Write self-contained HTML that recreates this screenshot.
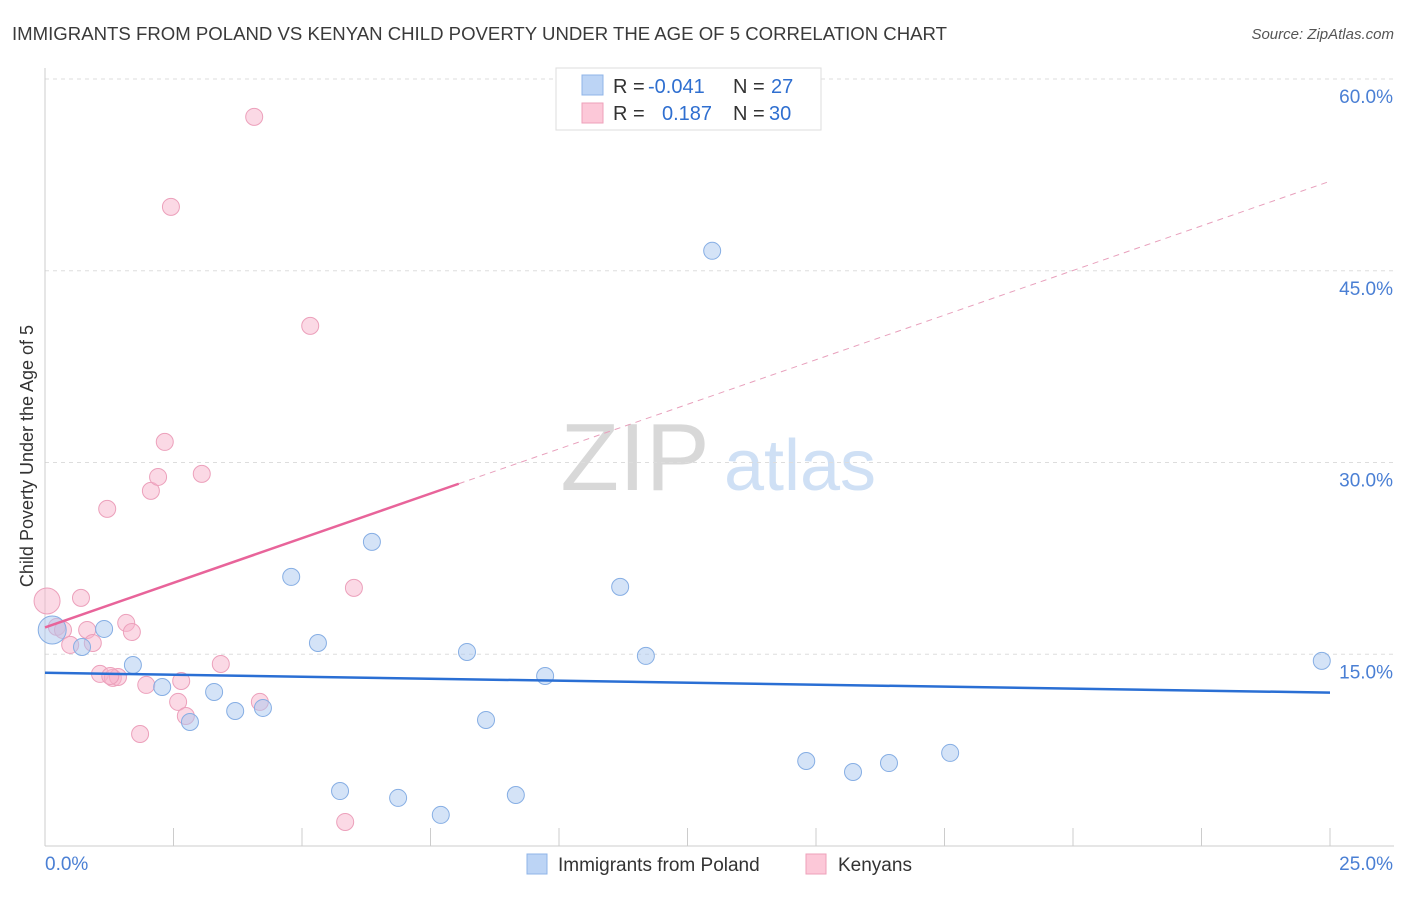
<!DOCTYPE html>
<html><head><meta charset="utf-8">
<style>
body{margin:0;background:#fff;font-family:"Liberation Sans",sans-serif;}
svg text{font-family:"Liberation Sans",sans-serif;}
</style></head>
<body>
<svg id="chart" width="1406" height="892" xmlns="http://www.w3.org/2000/svg">
<text x="12" y="40" font-size="18.6" fill="#3a3a3a">IMMIGRANTS FROM POLAND VS KENYAN CHILD POVERTY UNDER THE AGE OF 5 CORRELATION CHART</text>
<text x="1394" y="39" font-size="15" fill="#555" text-anchor="end" font-style="italic">Source: ZipAtlas.com</text>
<g>
<text x="635" y="490" font-size="96" fill="#d8d8d8" text-anchor="middle" font-family="Liberation Serif">ZIP</text>
<text x="800" y="490" font-size="72" fill="#cfe0f5" text-anchor="middle">atlas</text>
</g>
<g id="grid"></g>
<g id="axes"></g>
<g id="marks"></g>
<g>
<rect x="556" y="68" width="265" height="62" fill="#fff" stroke="#ddd"/>
<rect x="582" y="75" width="21" height="20" fill="#bcd4f5" stroke="#8fb4e8"/>
<rect x="582" y="103" width="21" height="20" fill="#fcc8d8" stroke="#eea0ba"/>
<text x="613" y="93" font-size="20" fill="#333">R =</text>
<text x="648" y="93" font-size="20" fill="#2f6fd0">-0.041</text>
<text x="733" y="93" font-size="20" fill="#333">N =</text>
<text x="771" y="93" font-size="20" fill="#2f6fd0">27</text>
<text x="613" y="120" font-size="20" fill="#333">R =</text>
<text x="662" y="120" font-size="20" fill="#2f6fd0">0.187</text>
<text x="733" y="120" font-size="20" fill="#333">N =</text>
<text x="769" y="120" font-size="20" fill="#2f6fd0">30</text>
</g>
<g>
<rect x="527" y="854" width="20" height="20" fill="#bcd4f5" stroke="#8fb4e8"/>
<text x="558" y="871" font-size="19" fill="#333">Immigrants from Poland</text>
<rect x="806" y="854" width="20" height="20" fill="#fcc8d8" stroke="#eea0ba"/>
<text x="838" y="871" font-size="19" fill="#333">Kenyans</text>
</g>
<text transform="translate(33,456) rotate(-90)" font-size="18" fill="#333" text-anchor="middle">Child Poverty Under the Age of 5</text>
</svg>
<script>
const xTickLabels=["0.0%","25.0%"];
const yTicks=[15,30,45,60];
const yTickLabels=["15.0%","30.0%","45.0%","60.0%"];
const polandX=[0.14,0.72,1.15,1.71,2.28,2.82,3.29,3.70,4.24,4.79,5.31,5.74,6.36,6.87,7.70,8.21,8.58,9.16,9.73,11.19,11.69,12.98,14.81,15.72,16.42,17.61,24.84];
const polandY=[16.9,15.57,16.98,14.16,12.44,9.70,12.05,10.56,10.80,21.05,15.88,4.30,23.79,3.76,2.43,15.18,9.86,3.99,13.30,20.27,14.87,46.56,6.65,5.79,6.49,7.28,14.48];
const kenyaX=[0.04,0.23,0.35,0.49,0.70,0.82,0.93,1.07,1.21,1.32,1.42,1.58,1.69,1.85,1.97,2.06,2.20,2.33,2.45,2.59,2.65,2.74,3.05,3.42,4.07,4.18,5.16,5.84,6.01,1.27];
const kenyaY=[19.17,17.14,16.9,15.73,19.41,16.9,15.88,13.46,26.37,13.15,13.22,17.45,16.74,8.76,12.6,27.78,28.87,31.61,50.0,11.27,12.91,10.17,29.11,14.24,57.04,11.27,40.69,1.88,20.19,13.3];
const polandTrend=[13.55,12.0];
const kenyaTrend=[17.1,52.0];
const kenyaSolidEnd=8.05;

const NS="http://www.w3.org/2000/svg";
const X=v=>45+v*(1285/25);
const Y=v=>846-v*(767/60);
function mk(tag,attrs,parent){const e=document.createElementNS(NS,tag);for(const k in attrs)e.setAttribute(k,attrs[k]);parent.appendChild(e);return e;}
const grid=document.getElementById('grid'),axes=document.getElementById('axes'),marks=document.getElementById('marks');
yTicks.forEach((t,i)=>{
  const l=mk('line',{x1:45,x2:1394,y1:Y(t),y2:Y(t),stroke:'#ddd','stroke-dasharray':'4,4'},grid);
  
  
  const tx=mk('text',{x:1393,y:Y(t)+24,'font-size':19,fill:'#4a7fd4','text-anchor':'end'},axes);
  tx.textContent=yTickLabels[i];
  
  
});
const ax=mk('line',{x1:45,x2:1394,y1:846,y2:846,stroke:'#ccc'},axes);


const ay=mk('line',{x1:45,x2:45,y1:68,y2:846,stroke:'#ccc'},axes);


for(let i=0;i<=10;i++){
  const t=mk('line',{x1:X(i*2.5),x2:X(i*2.5),y1:828,y2:846,stroke:'#ccc'},axes);
  
  
}
const xl0=mk('text',{x:45,y:870,'font-size':19,fill:'#4a7fd4'},axes);xl0.textContent=xTickLabels[0];


const xl1=mk('text',{x:1393,y:870,'font-size':19,fill:'#4a7fd4','text-anchor':'end'},axes);xl1.textContent=xTickLabels[1];



kenyaX.forEach((v,i)=>{
  const c=mk('circle',{cx:X(v),cy:Y(kenyaY[i]),r:i===0?13:8.5,fill:'rgba(248,180,204,0.5)',stroke:'#eca0bb','stroke-width':1},marks);
  
  
});
polandX.forEach((v,i)=>{
  const c=mk('circle',{cx:X(v),cy:Y(polandY[i]),r:i===0?14:8.5,fill:'rgba(170,200,240,0.5)',stroke:'#86aee4','stroke-width':1},marks);
  
  
});
const kY=x=>kenyaTrend[0]+(kenyaTrend[1]-kenyaTrend[0])*x/25;
const kd=mk('line',{x1:X(kenyaSolidEnd),y1:Y(kY(kenyaSolidEnd)),x2:X(25),y2:Y(kY(25)),stroke:'#e8a0bc','stroke-dasharray':'6,5','stroke-width':1},marks);


const ks=mk('line',{x1:X(0),y1:Y(kY(0)),x2:X(kenyaSolidEnd),y2:Y(kY(kenyaSolidEnd)),stroke:'#e8649a','stroke-width':2.5},marks);


const pl=mk('line',{x1:X(0),y1:Y(polandTrend[0]),x2:X(25),y2:Y(polandTrend[1]),stroke:'#2a6fd4','stroke-width':2.5},marks);


</script>
</body></html>
